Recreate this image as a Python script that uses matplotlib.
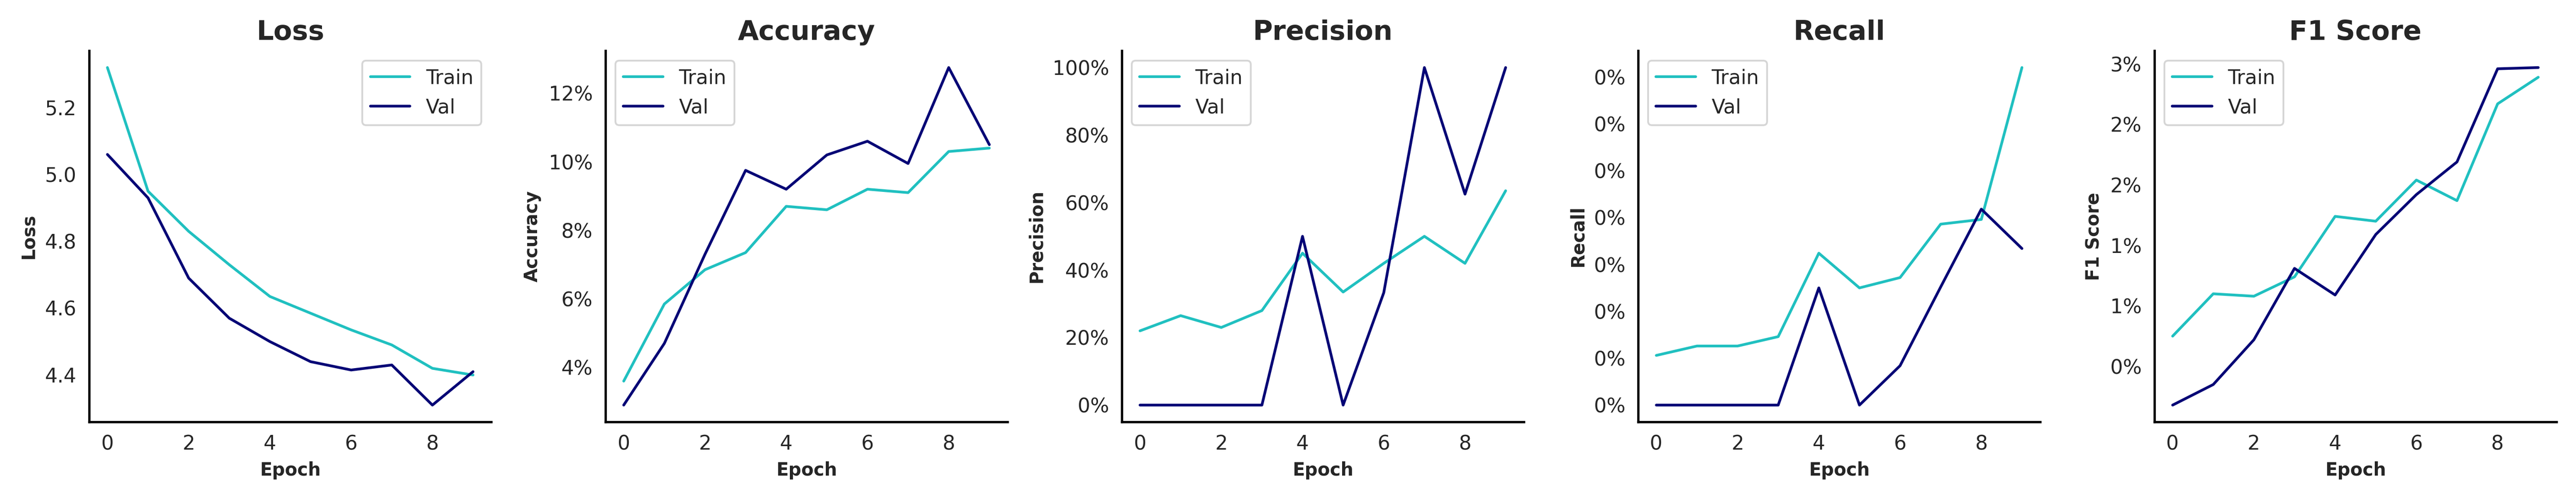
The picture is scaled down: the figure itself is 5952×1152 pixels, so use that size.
import numpy as np
import matplotlib
matplotlib.use("Agg")
import matplotlib.pyplot as plt
import seaborn as sns
from matplotlib.ticker import PercentFormatter

sns.set_style("white")

epochs = list(range(10))

loss_train = [5.32, 4.95, 4.83, 4.73, 4.635, 4.585, 4.535, 4.49, 4.42, 4.40]
loss_val = [5.06, 4.93, 4.69, 4.57, 4.50, 4.44, 4.415, 4.43, 4.31, 4.41]

acc_train = [0.036, 0.0585, 0.0685, 0.0735, 0.087, 0.086, 0.092, 0.091, 0.103, 0.104]
acc_val = [0.029, 0.047, 0.073, 0.0975, 0.092, 0.102, 0.106, 0.0995, 0.1275, 0.105]

prec_train = [0.22, 0.265, 0.23, 0.28, 0.45, 0.335, 0.42, 0.50, 0.42, 0.635]
prec_val = [0.0, 0.0, 0.0, 0.0, 0.50, 0.0, 0.333, 1.0, 0.625, 1.0]

rec_train = [0.00053, 0.00063, 0.00063, 0.00073, 0.00162, 0.00125, 0.00136, 0.00193, 0.00198, 0.0036]
rec_val = [0.0, 0.0, 0.0, 0.0, 0.00125, 0.0, 0.00042, 0.00126, 0.00209, 0.00167]

f1_train = [0.0050, 0.0085, 0.0083, 0.0099, 0.0149, 0.0145, 0.0179, 0.0162, 0.0242, 0.0264]
f1_val = [-0.0007, 0.0010, 0.0047, 0.0106, 0.0084, 0.0134, 0.0167, 0.0194, 0.0271, 0.0272]

panels = [
    ("Loss", loss_train, loss_val, False),
    ("Accuracy", acc_train, acc_val, True),
    ("Precision", prec_train, prec_val, True),
    ("Recall", rec_train, rec_val, True),
    ("F1 Score", f1_train, f1_val, True),
]

fig, axes = plt.subplots(1, 5, figsize=(19.84, 3.84), dpi=300)

for ax, (name, tr, va, pct) in zip(axes, panels):
    ax.plot(epochs, tr, color="#20c0c0", lw=1.5, label="Train")
    ax.plot(epochs, va, color="#000075", lw=1.5, label="Val")
    ax.set_title(name, fontsize=15, fontweight="bold")
    ax.set_xlabel("Epoch", fontsize=10, fontweight="bold")
    ax.set_ylabel(name, fontsize=10, fontweight="bold")
    ax.set_xticks([0, 2, 4, 6, 8])
    ax.tick_params(labelsize=11)
    if pct:
        ax.yaxis.set_major_formatter(PercentFormatter(1, decimals=0))
    ax.legend(loc="upper left" if name != "Loss" else "upper right", fontsize=11)
    for s in ["top", "right"]:
        ax.spines[s].set_visible(False)
    for s in ["left", "bottom"]:
        ax.spines[s].set_color("black")
        ax.spines[s].set_linewidth(1.3)

axes[0].set_yticks([4.4, 4.6, 4.8, 5.0, 5.2])
axes[1].set_yticks([0.04, 0.06, 0.08, 0.10, 0.12])
axes[2].set_yticks([0, 0.2, 0.4, 0.6, 0.8, 1.0])
axes[3].set_yticks(np.arange(8) * 0.0005)
axes[4].set_yticks([0.0025, 0.0075, 0.0125, 0.0175, 0.0225, 0.0275])
axes[4].set_yticklabels(["0%", "1%", "1%", "2%", "2%", "3%"])

plt.tight_layout()
plt.savefig("out.png", dpi=300)
